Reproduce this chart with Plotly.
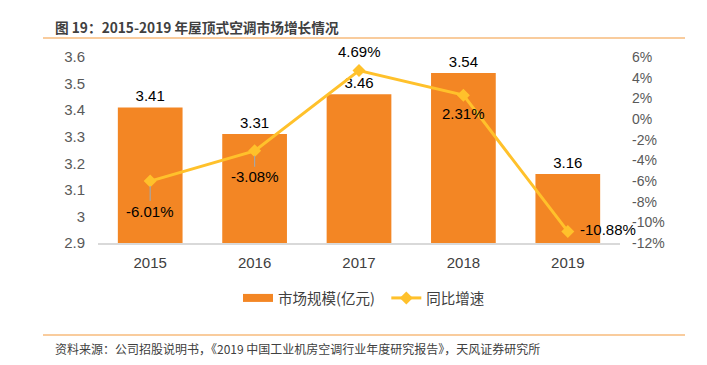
import plotly.graph_objects as go

years = ["2015", "2016", "2017", "2018", "2019"]
market_size = [3.41, 3.31, 3.46, 3.54, 3.16]
growth = [-6.01, -3.08, 4.69, 2.31, -10.88]
left_ticks = [2.9, 3.0, 3.1, 3.2, 3.3, 3.4, 3.5, 3.6]
left_tick_text = ["2.9", "3", "3.1", "3.2", "3.3", "3.4", "3.5", "3.6"]
right_ticks = [-12, -10, -8, -6, -4, -2, 0, 2, 4, 6]
right_tick_text = ["-12%", "-10%", "-8%", "-6%", "-4%", "-2%", "0%", "2%", "4%", "6%"]

BAR = "#F38624"
LINE = "#FFC12B"
NUM_FONT = "Liberation Sans, Arial, sans-serif"
CJK = "Noto Sans CJK SC, sans-serif"

# page body has an 8px margin: figure pixel = page pixel - 8
OFF = 8
W, H = 691, 349
L, T = 98 - OFF, 57 - OFF
R = W - (620 - OFF)
B = H - (243 - OFF)

def px_x(p):
    return (p - OFF - L) / (W - L - R)
def px_y(p):
    return (H - B - (p - OFF)) / (H - T - B)

fig = go.Figure()
fig.add_trace(go.Bar(
    x=years, y=market_size, name="市场规模(亿元)",
    marker=dict(color=BAR, line=dict(width=0)),
    text=[f"{v:.2f}" for v in market_size], textposition="outside",
    textfont=dict(family=NUM_FONT, size=15, color="#000000"),
    cliponaxis=False, yaxis="y", showlegend=False,
))
# legend entry for the bars, drawn as a wide rectangle like the reference
fig.add_trace(go.Scatter(
    x=[None], y=[None], name="市场规模(亿元)\u00a0\u00a0", mode="lines",
    line=dict(color=BAR, width=8), yaxis="y",
))
fig.add_trace(go.Scatter(
    x=years, y=growth, name="同比增速", mode="lines+markers",
    line=dict(color=LINE, width=3),
    marker=dict(symbol="diamond", size=10, color=LINE),
    yaxis="y2", cliponaxis=False,
))

# growth labels (category axis -> annotation x as category index)
offsets = [(0, 30, True), (0, 26, True), (0, -19, False), (0, 18, False), (40, -2, False)]
for i, (g, (dx, dy, arrow)) in enumerate(zip(growth, offsets)):
    if arrow:
        fig.add_annotation(x=i, y=g, xref="x", yref="y2", text=f"{g:.2f}%",
                           showarrow=True, arrowhead=0, arrowwidth=1.2, arrowcolor="#A6A6A6",
                           ax=dx, ay=dy, standoff=5,
                           font=dict(family=NUM_FONT, size=15, color="#000000"))
    else:
        fig.add_annotation(x=i, y=g, xref="x", yref="y2", text=f"{g:.2f}%",
                           showarrow=False, xshift=dx, yshift=-dy,
                           font=dict(family=NUM_FONT, size=15, color="#000000"))

# title & footer
fig.add_annotation(x=px_x(53), y=px_y(27), xref="paper", yref="paper",
                   text="<b>图 19：2015-2019 年屋顶式空调市场增长情况</b>",
                   showarrow=False, xanchor="left", yanchor="middle",
                   font=dict(family=CJK, size=13.7, color="#404040"))
fig.add_annotation(x=px_x(53), y=px_y(348), xref="paper", yref="paper",
                   text="资料来源：公司招股说明书，《2019 中国工业机房空调行业年度研究报告》，天风证券研究所",
                   showarrow=False, xanchor="left", yanchor="middle",
                   font=dict(family=CJK, size=12, color="#404040"))

fig.add_shape(type="line", xref="paper", yref="paper", x0=px_x(43), x1=px_x(685), y0=px_y(38), y1=px_y(38),
              line=dict(color="#F39A3C", width=1.2))
fig.add_shape(type="line", xref="paper", yref="paper", x0=px_x(43), x1=px_x(685), y0=px_y(335), y1=px_y(335),
              line=dict(color="#F39A3C", width=1.2))

fig.update_layout(
    width=W, height=H,
    margin=dict(l=L, r=R, t=T, b=B, pad=0),
    paper_bgcolor="white", plot_bgcolor="white",
    showlegend=True,
    legend=dict(orientation="h", x=px_x(364), xanchor="center", y=px_y(298), yanchor="middle",
                font=dict(family=CJK, size=14.5, color="#404040"),
                traceorder="normal"),
    bargap=0.38,
    xaxis=dict(type="category", range=[-0.5, 4.5], showgrid=False, showline=True,
               linecolor="#D9D9D9", linewidth=1.5, ticklabelstandoff=5,
               ticks="", tickfont=dict(family=NUM_FONT, size=15, color="#404040")),
    yaxis=dict(range=[2.9, 3.6], tickvals=left_ticks, ticktext=left_tick_text,
               showgrid=False, zeroline=False, showline=False, ticks="",
               ticklabelstandoff=12,
               tickfont=dict(family=NUM_FONT, size=15, color="#595959")),
    yaxis2=dict(range=[-12, 6], tickvals=right_ticks, ticktext=right_tick_text,
                overlaying="y", side="right", showgrid=False, zeroline=False, showline=False,
                ticks="", ticklabelstandoff=11,
                tickfont=dict(family=NUM_FONT, size=14, color="#595959")),
)

fig.write_html("out.html")
